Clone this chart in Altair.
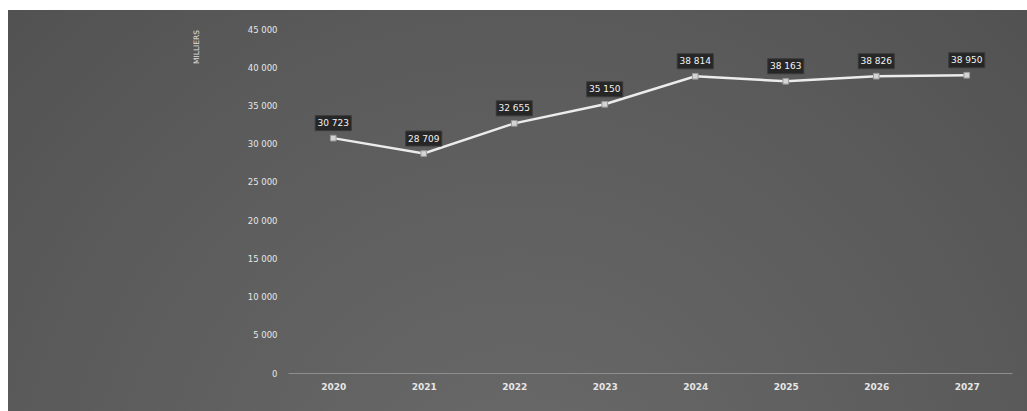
import altair as alt
import pandas as pd

# Annual totals, in thousands
years = ["2020", "2021", "2022", "2023", "2024", "2025", "2026", "2027"]
totals = [30723, 28709, 32655, 35150, 38814, 38163, 38826, 38950]
y_ticks = [0, 5000, 10000, 15000, 20000, 25000, 30000, 35000, 40000, 45000]
unit_label = "MILLIERS"

W, H = 724, 344
PAD = {"left": 288, "top": 29, "right": 15, "bottom": 38}

df = pd.DataFrame({"year": years, "total": totals})
df["label"] = [f"{v:,}".replace(",", " ") for v in totals]

x_enc = alt.X(
    "year:O",
    scale=alt.Scale(type="point", padding=0.5),
    axis=alt.Axis(
        title=None, labelAngle=0, ticks=False, domain=True,
        domainColor="#8e8e8e", domainWidth=1.2, labelPadding=9,
        labelColor="#e6e6e6", labelFont="DejaVu Sans", labelFontSize=9,
        labelFontWeight="bold", zindex=1,
    ),
)
y_enc = alt.Y(
    "total:Q",
    scale=alt.Scale(domain=[0, 45000], nice=False),
    axis=alt.Axis(
        title=None, values=y_ticks, grid=False, ticks=False, domain=False,
        labelPadding=11, labelColor="#e6e6e6", labelFont="DejaVu Sans",
        labelFontSize=8.5, zindex=1,
        labelExpr="replace(format(datum.value, ','), ',', ' ')",
    ),
)

# dark panel behind everything
panel_fill = alt.Gradient(
    gradient="radial",
    stops=[
        alt.GradientStop(color="#6a6a6a", offset=0),
        alt.GradientStop(color="#5a5a5a", offset=0.55),
        alt.GradientStop(color="#4a4a4a", offset=1),
    ],
    x1=0.5, y1=0.8, r1=0, x2=0.5, y2=0.8, r2=0.9,
)
panel = alt.Chart(pd.DataFrame({"k": [0]})).mark_rect(
    fill=panel_fill, clip=False
).encode(
    x=alt.value(8 - PAD["left"]),
    x2=alt.value(W + PAD["right"]),
    y=alt.value(10 - PAD["top"]),
    y2=alt.value(H + PAD["bottom"]),
)

unit = alt.Chart(pd.DataFrame({"t": [unit_label]})).mark_text(
    angle=270, align="right", baseline="middle", fontSize=7.5,
    font="DejaVu Sans", color="#e0e0e0", clip=False,
).encode(x=alt.value(197 - PAD["left"]), y=alt.value(1), text="t:N")

base = alt.Chart(df).encode(x=x_enc, y=y_enc)

line = base.mark_line(color="#ececec", strokeWidth=2.5)
points = base.mark_point(
    shape="square", size=32, filled=True, color="#d4d4d4",
    stroke="#9a9a9a", strokeWidth=1, opacity=1,
)
boxes = base.mark_rect(
    width=36, height=15, yOffset=-15, color="#262626",
    stroke="#3a3a3a", strokeWidth=1,
)
labels = base.mark_text(
    yOffset=-15, fontSize=9, font="DejaVu Sans", color="#f2f2f2",
    baseline="middle", align="center",
).encode(text="label:N")

chart = alt.layer(panel, unit, line, points, boxes, labels).properties(
    width=W, height=H, padding=PAD,
    autosize=alt.AutoSizeParams(type="none"),
    background="#ffffff",
).configure_view(stroke=None)

chart.save("out.html", embed_options={"renderer": "svg", "actions": False})
